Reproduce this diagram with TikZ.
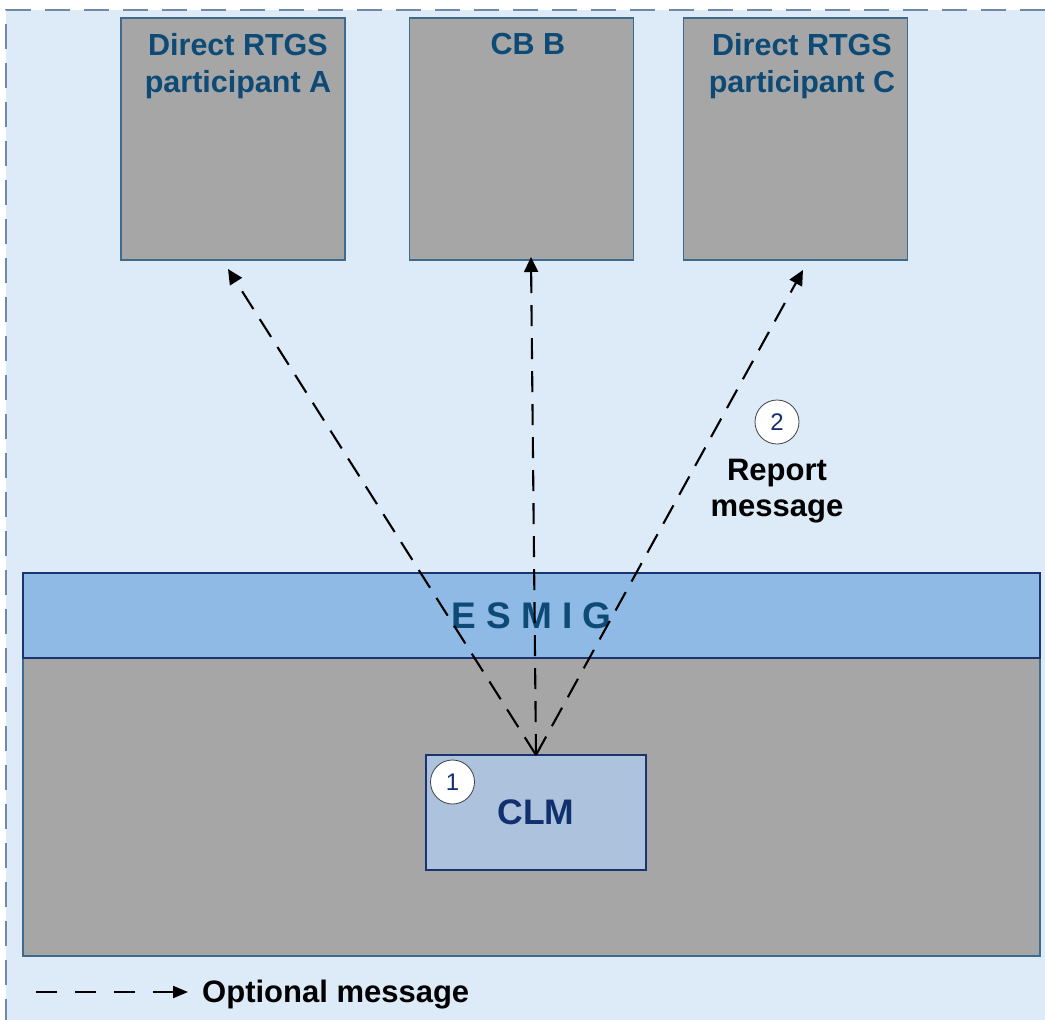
\documentclass[tikz,border=0pt]{standalone}
\usepackage{fontspec}
\setmainfont{Liberation Sans}
\usetikzlibrary{arrows.meta}
\definecolor{bgblue}{HTML}{DDEAF7}
\definecolor{bgdash}{HTML}{7089AB}
\definecolor{boxgray}{HTML}{A6A6A6}
\definecolor{boxline}{HTML}{3E6A8C}
\definecolor{titleblue}{HTML}{0D4A75}
\definecolor{esmigfill}{HTML}{8EBAE5}
\definecolor{navy}{HTML}{1B3470}
\definecolor{clmfill}{HTML}{ADC2DC}
\definecolor{clmtext}{HTML}{12306E}
\begin{document}
\begin{tikzpicture}[x=1pt,y=-1pt,
  pbox/.style={draw=boxline,line width=1.3pt,fill=boxgray,minimum width=224pt,minimum height=242pt,inner sep=0pt,outer sep=0pt},
  ptext/.style={text=titleblue,font=\fontsize{30.5}{37}\selectfont\bfseries,align=center,anchor=north,inner sep=0pt},
  band/.style={draw=navy,line width=2.4pt,fill=esmigfill,minimum width=1017pt,minimum height=85pt,inner sep=0pt,outer sep=0pt,text=titleblue,font=\fontsize{37}{40}\selectfont\bfseries},
  core/.style={draw=boxline,line width=1.3pt,fill=boxgray,minimum width=1017pt,minimum height=298pt,inner sep=0pt,outer sep=0pt},
  clmbox/.style={draw=navy,line width=2.4pt,fill=clmfill,minimum width=220pt,minimum height=115pt,inner sep=0pt,outer sep=0pt,text=clmtext,font=\fontsize{35.5}{40}\selectfont\bfseries},
  numcirc/.style={circle,draw=black!75,line width=0.8pt,fill=white,minimum size=44pt,inner sep=0pt,text=clmtext,font=\fontsize{24}{26}\selectfont},
  opt/.style={line width=2.1pt,dash pattern=on 21pt off 12pt,-{Triangle[length=15pt,width=14pt]}},
  lbl/.style={font=\fontsize{31}{36}\selectfont\bfseries,align=center,inner sep=0pt}
]
\useasboundingbox (0,0) rectangle (1045,1020);
% background frame
\fill[bgblue] (6,10) rectangle (1045,1020);
\draw[bgdash,line width=1.8pt,dash pattern=on 25pt off 14pt] (1045,10) -- (6,10) -- (6,1020);

% top boxes
\node[pbox] (a) at (233,139) {};
\node[pbox] (b) at (521.5,139) {};
\node[pbox] (c) at (795.5,139) {};
\node[ptext] (at) at (238,33) {Direct RTGS\\participant A};
\node[ptext] (bt) at (528,33) {CB B};
\node[ptext] (ct) at (802,33) {Direct RTGS\\participant C};

% lower area
\node[core] (core) at (531.5,807) {};
\node[band] (esmig) at (531.5,615.5) {E S M I G};
\node[clmbox] (clm) at (536,812.5) {CLM};
\node[numcirc] (n1) at (452.5,782) {1};

% messages
\draw[opt] (clm.north) -- ([shift={(-5,9)}]a.south);
\draw[opt] (clm.north) -- ([shift={(9.5,-3)}]b.south);
\draw[opt] (clm.north) -- ([shift={(7.5,10)}]c.south);

\node[numcirc] (n2) at (777,422) {2};
\node[lbl,anchor=north] (rep) at (777,459) {Report\\message};

% legend
\coordinate (lg0) at (36,992);
\coordinate (lg1) at (188,992);
\draw[line width=2.1pt,dash pattern=on 21pt off 18pt,-{Triangle[length=15pt,width=12pt]}] (lg0) -- (lg1);
\node[lbl,anchor=base west] (leg) at (202,1002) {Optional message};
\end{tikzpicture}
\end{document}
